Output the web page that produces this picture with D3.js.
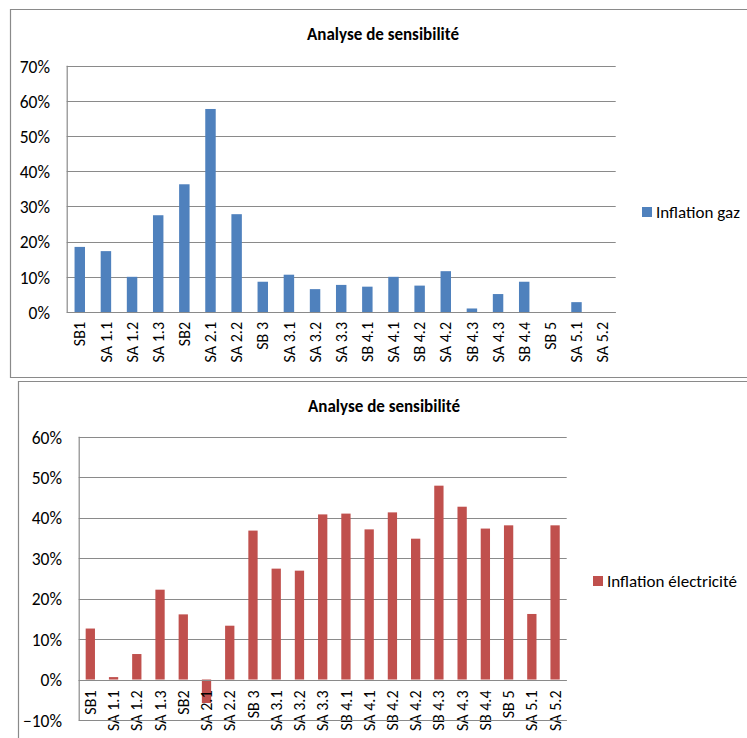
<!DOCTYPE html>
<html>
<head>
<meta charset="utf-8">
<script src="https://cdn.jsdelivr.net/npm/d3@7"></script>
<style>
  html, body { margin: 0; padding: 0; background: #fff; }
  svg { display: block; }
  text { font-family: Carlito, Calibri, Lato, "Open Sans", sans-serif; fill: #000; }
</style>
</head>
<body>
<svg id="chart" width="747" height="738"></svg>
<script>
// Scenario categories shared by both charts
const categories = ["SB1", "SA 1.1", "SA 1.2", "SA 1.3", "SB2", "SA 2.1", "SA 2.2",
  "SB 3", "SA 3.1", "SA 3.2", "SA 3.3", "SB 4.1", "SA 4.1", "SB 4.2", "SA 4.2",
  "SB 4.3", "SA 4.3", "SB 4.4", "SB 5", "SA 5.1", "SA 5.2"];

// Sensitivity to gas inflation (fractions)
const gasValues = [0.185, 0.173, 0.100, 0.275, 0.363, 0.577, 0.278,
  0.086, 0.106, 0.065, 0.077, 0.072, 0.100, 0.075, 0.116,
  0.010, 0.051, 0.086, 0, 0.028, 0];

// Sensitivity to electricity inflation (fractions)
const elecValues = [0.126, 0.006, 0.063, 0.222, 0.161, -0.058, 0.133,
  0.368, 0.274, 0.269, 0.408, 0.410, 0.371, 0.413, 0.348,
  0.479, 0.427, 0.373, 0.381, 0.162, 0.381];

const gasTicks = [0, 0.1, 0.2, 0.3, 0.4, 0.5, 0.6, 0.7];
const elecTicks = [-0.1, 0, 0.1, 0.2, 0.3, 0.4, 0.5, 0.6];

const title = "Analyse de sensibilité";
const gasLabel = "Inflation gaz";
const elecLabel = "Inflation électricité";

const svg = d3.select("#chart");
const lineColor = "#8a8a8a";
const fmt = d3.format(".0%");
const FONT = "Carlito, Calibri, Lato, sans-serif";

function drawChart(cfg) {
  const g = svg.append("g");

  // chart frame (left, top and bottom edges; right side runs off the page)
  g.append("path")
    .attr("d", `M747,${cfg.box.top + 0.5} H${cfg.box.left + 0.5} V${cfg.box.bottom + 0.5} H747`)
    .attr("fill", "none").attr("stroke", lineColor).attr("stroke-width", 1.2);

  const x = d3.scaleBand().domain(categories)
    .range([cfg.plot.left, cfg.plot.right])
    .paddingInner(0.6).paddingOuter(0.3);
  const y = d3.scaleLinear().domain(cfg.domain)
    .range([cfg.plot.bottom, cfg.plot.top]);

  // horizontal gridlines
  g.append("g").selectAll("line").data(cfg.ticks).join("line")
    .attr("x1", cfg.plot.left).attr("x2", cfg.plot.right)
    .attr("y1", d => Math.round(y(d)) + 0.5).attr("y2", d => Math.round(y(d)) + 0.5)
    .attr("stroke", lineColor).attr("stroke-width", 1.2);

  // value axis line
  g.append("line")
    .attr("x1", cfg.plot.left + 0.5).attr("x2", cfg.plot.left + 0.5)
    .attr("y1", y(cfg.domain[1])).attr("y2", y(cfg.domain[0]))
    .attr("stroke", lineColor).attr("stroke-width", 1.2);

  // y tick labels
  const yAxis = d3.axisLeft(y).tickValues(cfg.ticks).tickFormat(fmt).tickSize(0).tickPadding(0);
  const ya = g.append("g").attr("transform", `translate(${cfg.tickRight},0)`).call(yAxis);
  ya.select(".domain").remove();
  ya.selectAll("text").attr("font-size", cfg.tickSize).attr("fill", "#000")
    .attr("font-family", FONT).attr("dy", "0.36em");

  // bars
  g.append("g").selectAll("rect").data(cfg.values).join("rect")
    .attr("x", (d, i) => x(categories[i]))
    .attr("width", x.bandwidth())
    .attr("y", d => y(Math.max(0, d)))
    .attr("height", d => Math.abs(y(d) - y(0)))
    .attr("fill", cfg.color);

  // category axis line at zero
  g.append("line")
    .attr("x1", cfg.plot.left).attr("x2", cfg.plot.right)
    .attr("y1", Math.round(y(0)) + 0.5).attr("y2", Math.round(y(0)) + 0.5)
    .attr("stroke", lineColor).attr("stroke-width", 1.2);

  // category labels, rotated
  g.append("g").selectAll("text").data(categories).join("text")
    .attr("transform", d => `translate(${x(d) + x.bandwidth() / 2},${cfg.labelTop}) rotate(-90)`)
    .attr("text-anchor", "end")
    .attr("dy", "0.35em")
    .attr("font-size", cfg.labelSize)
    .text(d => d);

  // bottom gridline drawn over labels when the domain is negative
  if (cfg.domain[0] < 0) {
    g.append("line")
      .attr("x1", cfg.plot.left).attr("x2", cfg.plot.right)
      .attr("y1", Math.round(y(cfg.domain[0])) + 0.5).attr("y2", Math.round(y(cfg.domain[0])) + 0.5)
      .attr("stroke", lineColor).attr("stroke-width", 1.2);
  }

  // title
  g.append("text").attr("x", cfg.titleX).attr("y", cfg.titleY)
    .attr("text-anchor", "middle").attr("font-weight", "bold").attr("font-size", 17)
    .text(title);

  // legend
  g.append("rect").attr("x", cfg.legend.x).attr("y", cfg.legend.y)
    .attr("width", 10).attr("height", 10).attr("fill", cfg.color);
  g.append("text").attr("x", cfg.legend.x + 14).attr("y", cfg.legend.y + 10.5)
    .attr("font-size", 17).text(cfg.label);
}

drawChart({
  box: { left: 10, top: 9, bottom: 377 },
  plot: { left: 66.7, right: 615.7, top: 65.7, bottom: 312 },
  domain: [0, 0.7], ticks: gasTicks, values: gasValues, color: "#4F81BD",
  tickRight: 50, tickSize: 17.5, labelTop: 322, labelSize: 16,
  titleX: 383, titleY: 40, label: gasLabel,
  legend: { x: 642, y: 207 }
});

drawChart({
  box: { left: 18, top: 381, bottom: 760 },
  plot: { left: 78.7, right: 566.7, top: 436.7, bottom: 720 },
  domain: [-0.1, 0.6], ticks: elecTicks, values: elecValues, color: "#C0504D",
  tickRight: 62, tickSize: 17.5, labelTop: 690.5, labelSize: 16,
  titleX: 384, titleY: 412, label: elecLabel,
  legend: { x: 593, y: 576 }
});
</script>
</body>
</html>
